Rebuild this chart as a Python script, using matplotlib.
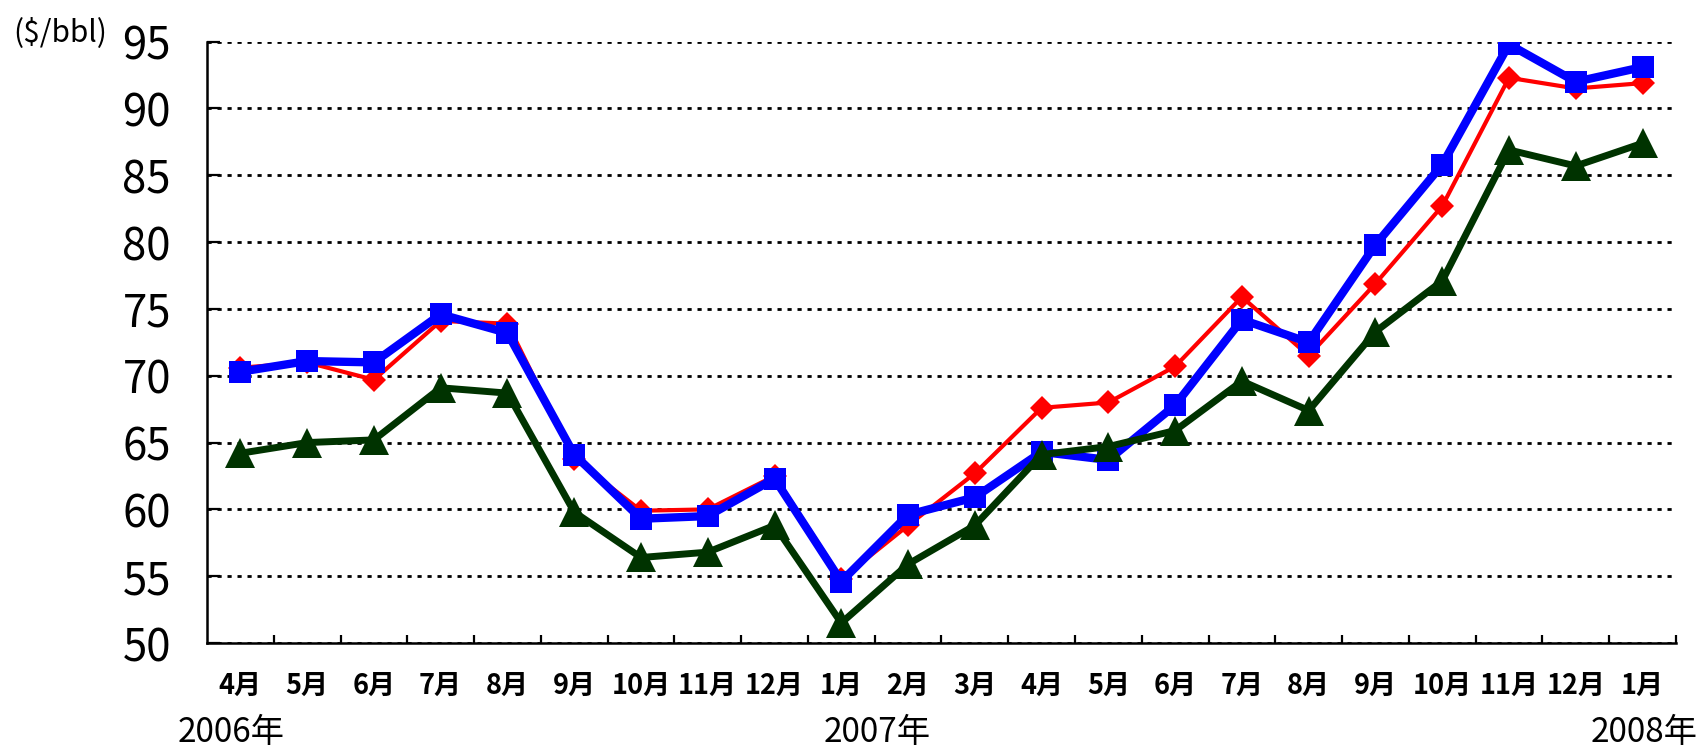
import numpy as np
import matplotlib
matplotlib.use("Agg")
import matplotlib.pyplot as plt

months = ["4月", "5月", "6月", "7月", "8月", "9月", "10月", "11月", "12月",
          "1月", "2月", "3月", "4月", "5月", "6月", "7月", "8月", "9月",
          "10月", "11月", "12月", "1月"]
years = ["2006年", "2007年", "2008年"]
year_at = [0, 9, 21]          # month index each year label belongs to
year_shift = [-0.14, 0.53, 0.02]

brent = [70.6, 71.0, 69.7, 74.1, 73.9, 63.8, 59.9, 60.0, 62.5, 54.8, 58.8,
         62.7, 67.6, 68.0, 70.7, 75.9, 71.5, 76.9, 82.7, 92.3, 91.5, 91.9]
wti = [70.3, 71.1, 71.0, 74.6, 73.2, 64.1, 59.3, 59.5, 62.3, 54.6, 59.6,
       60.9, 64.3, 63.7, 67.8, 74.2, 72.5, 79.8, 85.8, 94.8, 92.0, 93.1]
dubai = [64.2, 65.0, 65.2, 69.1, 68.7, 59.8, 56.4, 56.8, 58.8, 51.5, 55.9,
         58.8, 64.1, 64.7, 65.9, 69.6, 67.4, 73.3, 77.1, 86.9, 85.7, 87.4]

yticks = [50, 55, 60, 65, 70, 75, 80, 85, 90, 95]

FONT = ["Liberation Sans Narrow", "Noto Sans CJK JP", "DejaVu Sans"]
plt.rcParams["font.family"] = FONT

fig = plt.figure(figsize=(16.98, 7.47), dpi=100)
ax = fig.add_axes([0.1219, 0.1392, 0.8651, 0.8050])

x = np.arange(len(months))

ax.plot(x, brent, color="#ff0000", lw=3, marker="D", ms=12.5,
        markeredgewidth=0, zorder=3)
ax.plot(x, wti, color="#0000ff", lw=6, marker="s", ms=16,
        markeredgewidth=0, zorder=4)
ax.plot(x, dubai, color="#003300", lw=5, marker="^", ms=22,
        markeredgewidth=0, zorder=5)

ax.set_xlim(-0.5, len(months) - 0.5)
ax.set_ylim(50, 95)

# grid
ax.set_yticks(yticks)
ax.set_yticklabels([str(v) for v in yticks], fontsize=31.5)
ax.yaxis.grid(True, color="black", lw=2, linestyle=(0, (1.5, 2.1)))
ax.set_axisbelow(True)
ax.tick_params(axis="y", direction="in", length=9, width=1.6, pad=26)

# month ticks between categories, labels in the middle
ax.set_xticks(np.arange(0.5, len(months), 1))
ax.set_xticklabels([])
ax.set_xticks(x, minor=True)
ax.set_xticklabels(months, minor=True, fontsize=19.5, fontweight="bold")
ax.tick_params(axis="x", which="major", direction="in", length=6, width=1.6)
ax.tick_params(axis="x", which="minor", length=0, pad=21)

for side in ["top", "right"]:
    ax.spines[side].set_visible(False)
for side in ["left", "bottom"]:
    ax.spines[side].set_linewidth(1.8)

for lab, i, dx in zip(years, year_at, year_shift):
    ax.annotate(lab, xy=(i + dx, -0.148), xycoords=("data", "axes fraction"),
                ha="center", va="center", fontsize=24,
                annotation_clip=False)

fig.text(0.0077, 0.956, "($/bbl)", fontsize=21.5, family="Noto Sans CJK JP",
         ha="left", va="center")

fig.savefig("out.png", dpi=100)
